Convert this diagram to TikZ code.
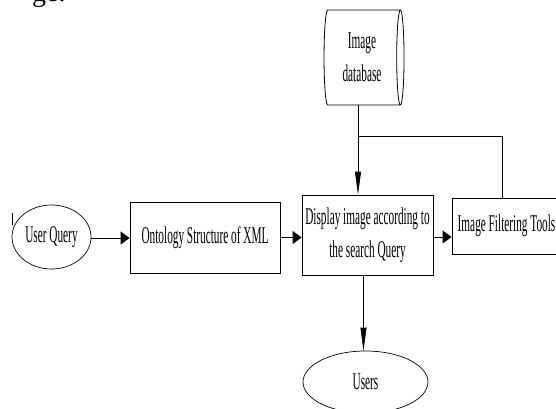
\documentclass[tikz,border=0pt]{standalone}
\usepackage{fontspec}
\setmainfont{Liberation Serif}[FakeStretch=0.47]
\newfontfamily\pagefont{Liberation Serif}
\usetikzlibrary{arrows.meta,shapes.geometric}

\tikzset{
  stage/.style={draw,line width=0.9pt,rectangle,inner sep=0pt,align=center},
  actor/.style={draw,line width=0.7pt,ellipse,inner sep=0pt},
  store/.style={draw,line width=0.8pt,cylinder,aspect=0.15,inner sep=0pt,align=center},
  flow/.style={-{Triangle[length=9pt,width=13pt]},line width=0.9pt},
  feed/.style={-{Triangle[length=23pt,width=6pt]},line width=0.6pt},
}

\begin{document}
\begin{tikzpicture}[x=1pt,y=-1pt,font=\fontsize{24}{33}\selectfont]
\useasboundingbox (0,0) rectangle (556,408);
% cut-off text of the page above
\node[anchor=base west,inner sep=0pt,font=\pagefont\fontsize{28}{30}\selectfont] (pagetext) at (32,1) {ge.};
\draw[line width=0.6pt] (12,213) -- (12,225);
% nodes
\node[actor,minimum width=79pt,minimum height=64pt] (uq) at (51.5,237) {User Query};
\node[stage,minimum width=150pt,minimum height=71pt] (ont) at (205,237.5) {Ontology Structure of XML};
\node[stage,minimum width=131pt,minimum height=80pt] (disp) at (367.5,235) {Display image according to\\the search Query};
\node[stage,minimum width=109pt,minimum height=56pt] (filt) at (506.5,226) {Image Filtering Tools};
\node[store,minimum height=80pt,minimum width=95pt] (db) at (362,57.5) {Image\\database};
\node[actor,minimum width=125pt,minimum height=62pt] (users) at (365.5,382) {Users};
\coordinate (j) at (358,136);
\coordinate (jr) at (502,136);
% connectors
\draw[flow] ([yshift=-1pt]uq.east) -- ([yshift=-1pt]uq.east -| ont.west);
\draw[flow] (ont.east) -- (ont.east -| disp.west);
\draw[flow] ([yshift=-2pt]disp.east) -- ([yshift=-2pt]disp.east -| filt.west);
\draw[feed] (db.south -| j) -- (disp.north -| j);
\draw[line width=0.6pt] (j) -- (jr) -- (jr |- filt.north);
\draw[feed] ([xshift=-2pt]disp.south -| users) -- ([xshift=-2pt]users.north);
\end{tikzpicture}
\end{document}
